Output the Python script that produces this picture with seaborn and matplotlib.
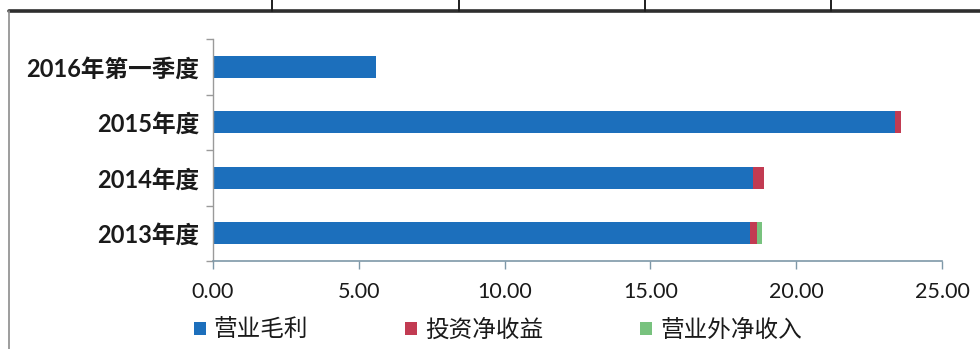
import matplotlib
matplotlib.use("Agg")
import matplotlib.pyplot as plt
from matplotlib.lines import Line2D
from matplotlib.patches import Patch
import seaborn as sns
import pandas as pd
import numpy as np

# Profit composition by period (unit: 亿元)
periods = ["2016年第一季度", "2015年度", "2014年度", "2013年度"]
gross_profit = [5.59, 23.39, 18.53, 18.42]       # 营业毛利
investment_income = [0.00, 0.19, 0.37, 0.25]     # 投资净收益
non_operating = [0.00, 0.00, 0.00, 0.17]         # 营业外净收入
series_names = ["营业毛利", "投资净收益", "营业外净收入"]
x_ticks = [0, 5, 10, 15, 20, 25]

colors = ["#1c6fbc", "#c23b52", "#78c27e"]

sns.set_theme(style="white")
plt.rcParams["font.family"] = ["Lato", "Noto Sans CJK SC", "DejaVu Sans"]

df = pd.DataFrame({
    "period": periods,
    "gp": gross_profit,
    "inv": investment_income,
    "nonop": non_operating,
})
df["c1"] = df["gp"]
df["c2"] = df["gp"] + df["inv"]
df["c3"] = df["c2"] + df["nonop"]

fig = plt.figure(figsize=(9.8, 3.49), dpi=100)
ax = fig.add_axes([213 / 980, 1 - 261 / 349, (942 - 213) / 980, (261 - 39) / 349])

# stacked bars: draw cumulative totals from the outermost segment inward
for col, color in zip(["c3", "c2", "c1"], colors[::-1]):
    sns.barplot(data=df, y="period", x=col, orient="y", color=color,
                width=0.39, saturation=1, ax=ax, order=periods, edgecolor="none",
                linewidth=0)

ax.set_xlim(0, 25)
ax.set_ylim(3.5, -0.5)
ax.set_xticks(x_ticks)
ax.set_xticklabels([f"{v:.2f}" for v in x_ticks])
ax.set_xlabel("")
ax.set_ylabel("")

for s in ["top", "right"]:
    ax.spines[s].set_visible(False)
ax.spines["left"].set_color("#9a9a9a")
ax.spines["left"].set_linewidth(1.0)
ax.spines["bottom"].set_color("#7e98a8")
ax.spines["bottom"].set_linewidth(1.2)

ax.tick_params(axis="x", which="major", direction="out", length=6, width=1,
               color="#7e98a8", labelsize=15.5, pad=9, labelcolor="#1a1a1a",
               bottom=True)
ax.tick_params(axis="y", which="major", length=0, labelsize=17, pad=10,
               labelcolor="#1a1a1a", left=True)
for lbl in ax.get_yticklabels():
    lbl.set_fontweight("bold")
ax.set_yticks(np.arange(-0.5, 4.0, 1.0), minor=True)
ax.tick_params(axis="y", which="minor", direction="out", length=5, width=1,
               color="#9a9a9a", left=True)

handles = [Patch(facecolor=c, edgecolor="none") for c in colors]
leg = fig.legend(handles, series_names, loc="center", bbox_to_anchor=(0.508, 0.055),
                 ncol=3, frameon=False, fontsize=17, handlelength=0.5, handleheight=0.5,
                 handletextpad=0.35, columnspacing=4.1, borderaxespad=0)
for t in leg.get_texts():
    t.set_color("#1a1a1a")

# surrounding table rules
tf = fig.transFigure
fig.add_artist(Line2D([9 / 980, 1.0], [1 - 11 / 349] * 2, transform=tf,
                      color="#2e2e2e", lw=2.6))
fig.add_artist(Line2D([9 / 980] * 2, [0.0, 1 - 11 / 349], transform=tf,
                      color="#8c8c8c", lw=1.2))
for xp in [272, 459, 645, 831]:
    fig.add_artist(Line2D([xp / 980] * 2, [1 - 11 / 349, 1.0], transform=tf,
                          color="#1e1e1e", lw=1.4))

fig.savefig("out.png", dpi=100, facecolor="white")
